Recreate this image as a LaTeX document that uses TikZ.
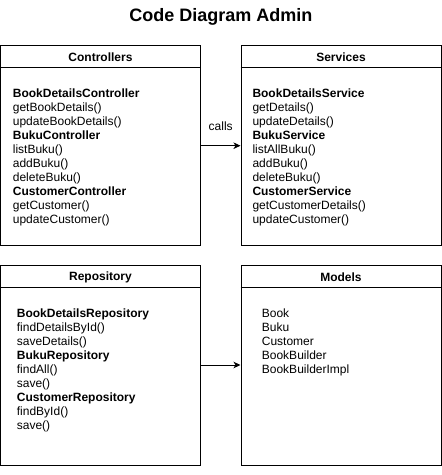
\documentclass[tikz,border=0pt]{standalone}
\usepackage{fontspec}
\setmainfont{Liberation Sans}
\usetikzlibrary{arrows.meta,calc}
\begin{document}
\begin{tikzpicture}[x=1pt,y=-1pt,
  box/.style={draw=black,line width=1pt,minimum width=200pt,minimum height=200pt,inner sep=0pt,fill=white},
  hdr/.style={font=\fontsize{12}{14}\selectfont\bfseries,inner sep=0pt},
  body/.style={font=\fontsize{12}{14}\selectfont,align=left,inner sep=0pt,anchor=north west},
  conn/.style={line width=1pt,-{Stealth[length=7pt,width=6.5pt,inset=2pt]}},
  lbl/.style={font=\fontsize{12}{14}\selectfont,inner sep=0pt}]
\useasboundingbox[fill=white] (0,0) rectangle (442,475);
\node[font=\fontsize{18}{21}\selectfont\bfseries,inner sep=0pt] (title) at (221,17) {Code Diagram Admin};
% boxes
\node[box] (ctrl) at (100.5,145.7) {};
\node[box] (serv) at (341,145.7) {};
\node[box] (repo) at (100.5,365) {};
\node[box] (model) at (341,365) {};
\foreach \b in {ctrl,serv,repo,model}{
  \draw[line width=1pt] ([yshift=-22.5pt]\b.north west) -- ([yshift=-22.5pt]\b.north east);
}
\node[hdr] (ctrlh) at (100.5,57) {Controllers};
\node[hdr] (servh) at (341,57) {Services};
\node[hdr] (repoh) at (100.5,277) {Repository};
\node[hdr] (modelh) at (341,277) {Models};
% contents
\node[body] (ctrlt) at (12.7,88.6) {\textbf{BookDetailsController}\\getBookDetails()\\updateBookDetails()\\\textbf{BukuController}\\listBuku()\\addBuku()\\deleteBuku()\\\textbf{CustomerController}\\getCustomer()\\updateCustomer()};
\node[body] (servt) at (252.3,88.6) {\textbf{BookDetailsService}\\getDetails()\\updateDetails()\\\textbf{BukuService}\\listAllBuku()\\addBuku()\\deleteBuku()\\\textbf{CustomerService}\\getCustomerDetails()\\updateCustomer()};
\node[body] (repot) at (16.7,308.2) {\textbf{BookDetailsRepository}\\findDetailsById()\\saveDetails()\\\textbf{BukuRepository}\\findAll()\\save()\\\textbf{CustomerRepository}\\findById()\\save()};
\node[body] (modelt) at (261.7,308.2) {Book\\Buku\\Customer\\BookBuilder\\BookBuilderImpl};
% connectors
\draw[conn] (ctrl) -- (serv) node[lbl,midway,yshift=19pt] (calls) {calls};
\draw[conn] (repo) -- (model);
\end{tikzpicture}
\end{document}
